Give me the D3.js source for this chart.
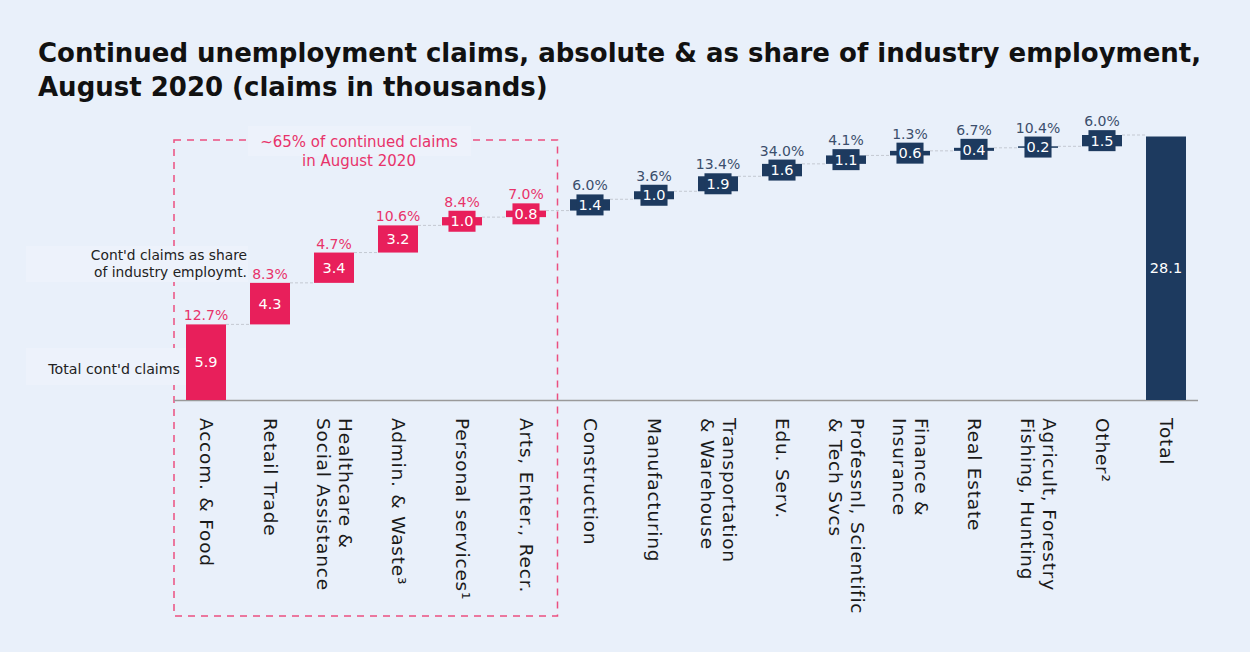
<!DOCTYPE html>
<html><head><meta charset="utf-8">
<script src="https://cdn.jsdelivr.net/npm/d3@7"></script>
<style>
html,body{margin:0;padding:0;background:#e9f0fa;}
svg{display:block;}
</style></head>
<body>
<svg id="chart" width="1250" height="652"></svg>
<script>
// ---- data ----
const categories = [
  ["Accom. & Food"], ["Retail Trade"], ["Healthcare &", "Social Assistance"], ["Admin. & Waste³"],
  ["Personal services¹"], ["Arts, Enter., Recr."], ["Construction"], ["Manufacturing"],
  ["Transportation", "& Warehouse"], ["Edu. Serv."], ["Professnl, Scientific", "& Tech Svcs"],
  ["Finance &", "Insurance"], ["Real Estate"], ["Agricult, Forestry", "Fishing, Hunting"], ["Other²"]
];
const claims = [5.9, 4.3, 3.4, 3.2, 1.0, 0.8, 1.4, 1.0, 1.9, 1.6, 1.1, 0.6, 0.4, 0.2, 1.5];
const shares = [12.7, 8.3, 4.7, 10.6, 8.4, 7.0, 6.0, 3.6, 13.4, 34.0, 4.1, 1.3, 6.7, 10.4, 6.0];
const totalLabel = "Total";
const totalClaims = 28.1;
const highlightedCount = 6;
const title = ["Continued unemployment claims, absolute & as share of industry employment,",
               "August 2020 (claims in thousands)"];
const boxNote = ["~65% of continued claims", "in August 2020"];
const shareNote = ["Cont'd claims as share", "of industry employmt."];
const totalNote = "Total cont'd claims";

// ---- styles ----
const PINK = "#e81f5b", PINK_TXT = "#e8336a", NAVY = "#1d3a5f", NAVY_TXT = "#3b4e6c";
const FONT = "'DejaVu Sans', sans-serif";

const svg = d3.select("#chart");
svg.append("rect").attr("width", 1250).attr("height", 652).attr("fill", "#e9f0fa");

// cumulative
let run = 0;
const steps = claims.map((v, i) => { const s = {i, v, y0: run, y1: run + v, share: shares[i], lab: categories[i]}; run += v; return s; });
const cumEnd = run;

const names = categories.map((c, i) => "c" + i).concat(["total"]);
const x = d3.scaleBand().domain(names).range([174, 1198]).paddingInner(0.375).paddingOuter(0.1875);
const baseY = 400;
const y = d3.scalePow().exponent(0.8).domain([0, cumEnd]).range([baseY, 135]);

// title
const t = svg.append("text").attr("x", 38).attr("font-family", FONT).attr("font-weight", 700)
  .attr("font-size", 26).attr("fill", "#111");
t.selectAll("tspan").data(title).join("tspan").attr("x", 38).attr("y", (d, i) => 62 + i * 34).text(d => d);

// dashed box around highlighted group
const boxRight = x("c" + (highlightedCount - 1)) + x.bandwidth() + (x.step() - x.bandwidth()) / 2 - 0.5;
svg.append("rect").attr("x", 174).attr("y", 140).attr("width", boxRight - 174).attr("height", 476)
  .attr("fill", "none").attr("stroke", "#ec4f80").attr("stroke-width", 1.5).attr("stroke-dasharray", "7,6");

// top note
svg.append("rect").attr("x", 248).attr("y", 126).attr("width", 223).attr("height", 30).attr("fill", "#edf2fb");
svg.append("text").attr("font-family", FONT).attr("font-size", 15).attr("fill", PINK_TXT).attr("text-anchor", "middle")
  .selectAll("tspan").data(boxNote).join("tspan").attr("x", 359).attr("y", (d, i) => 147 + i * 19).text(d => d);

// left notes
svg.append("rect").attr("x", 26).attr("y", 246).attr("width", 222).attr("height", 36).attr("fill", "#edf2fb");
svg.append("text").attr("font-family", FONT).attr("font-size", 13.8).attr("fill", "#222").attr("text-anchor", "end")
  .selectAll("tspan").data(shareNote).join("tspan").attr("x", 247).attr("y", (d, i) => 260 + i * 17).text(d => d);
svg.append("rect").attr("x", 26).attr("y", 348).attr("width", 160).attr("height", 37).attr("fill", "#edf2fb");
svg.append("text").attr("font-family", FONT).attr("font-size", 14.2).attr("fill", "#222").attr("text-anchor", "end")
  .attr("x", 180).attr("y", 374).text(totalNote);

// connectors
const conn = steps.map((s, i) => ({x1: x("c" + i) + x.bandwidth(), x2: x(i + 1 < steps.length ? "c" + (i + 1) : "total"), yv: s.y1}));
svg.append("g").selectAll("line").data(conn).join("line")
  .attr("x1", d => d.x1).attr("x2", d => d.x2).attr("y1", d => y(d.yv)).attr("y2", d => y(d.yv))
  .attr("stroke", "#c4c9d2").attr("stroke-width", 1).attr("stroke-dasharray", "3,2");

// axis line
svg.append("line").attr("x1", 174).attr("x2", 1198).attr("y1", baseY + 0.5).attr("y2", baseY + 0.5)
  .attr("stroke", "#9a9a9a").attr("stroke-width", 1.5);

// bars
const g = svg.append("g");
steps.forEach(s => {
  const col = s.i < highlightedCount ? PINK : NAVY;
  const txtCol = s.i < highlightedCount ? PINK_TXT : NAVY_TXT;
  const bx = x("c" + s.i), bw = x.bandwidth();
  const top = y(s.y1), bot = y(s.y0), h = bot - top;
  const cx = bx + bw / 2, cy = (top + bot) / 2;
  g.append("rect").attr("x", bx).attr("y", top).attr("width", bw).attr("height", h).attr("fill", col);
  const lbl = g.append("text").attr("x", cx).attr("y", cy).attr("dy", "0.36em").attr("text-anchor", "middle")
    .attr("font-family", FONT).attr("font-size", 14.5).attr("fill", "#fff").text(s.v.toFixed(1));
  let labTop = top;
  if (h < 21) {
    const w = lbl.node().getComputedTextLength() + 4;
    const bh = 21;
    g.insert("rect", function () { return lbl.node(); })
      .attr("x", cx - w / 2).attr("y", cy - bh / 2).attr("width", w).attr("height", bh).attr("fill", col);
    labTop = cy - bh / 2;
  }
  g.append("text").attr("x", cx).attr("y", labTop - 4).attr("text-anchor", "middle")
    .attr("font-family", FONT).attr("font-size", 14).attr("fill", txtCol).text(s.share.toFixed(1) + "%");
});
// total bar
{
  const bx = x("total"), bw = x.bandwidth();
  g.append("rect").attr("x", bx).attr("y", y(totalClaims)).attr("width", bw).attr("height", baseY - y(totalClaims)).attr("fill", NAVY);
  g.append("text").attr("x", bx + bw / 2).attr("y", (y(totalClaims) + baseY) / 2).attr("dy", "0.36em")
    .attr("text-anchor", "middle").attr("font-family", FONT).attr("font-size", 14.5).attr("fill", "#fff").text(totalClaims.toFixed(1));
}

// category labels (rotated)
const allLabs = categories.concat([[totalLabel]]);
allLabs.forEach((lines, i) => {
  const cx = x(names[i]) + x.bandwidth() / 2;
  const lh = 22;
  const off = (lines.length - 1) * lh / 2;
  const tt = svg.append("text").attr("transform", `translate(${cx + off},418) rotate(90)`)
    .attr("font-family", FONT).attr("font-size", 18.5).attr("letter-spacing", 0.8).attr("fill", "#1a1a1a");
  lines.forEach((ln, k) => {
    tt.append("tspan").attr("x", 0).attr("y", k * lh).attr("dy", "0.35em").text(ln);
  });
});
</script>
</body></html>
